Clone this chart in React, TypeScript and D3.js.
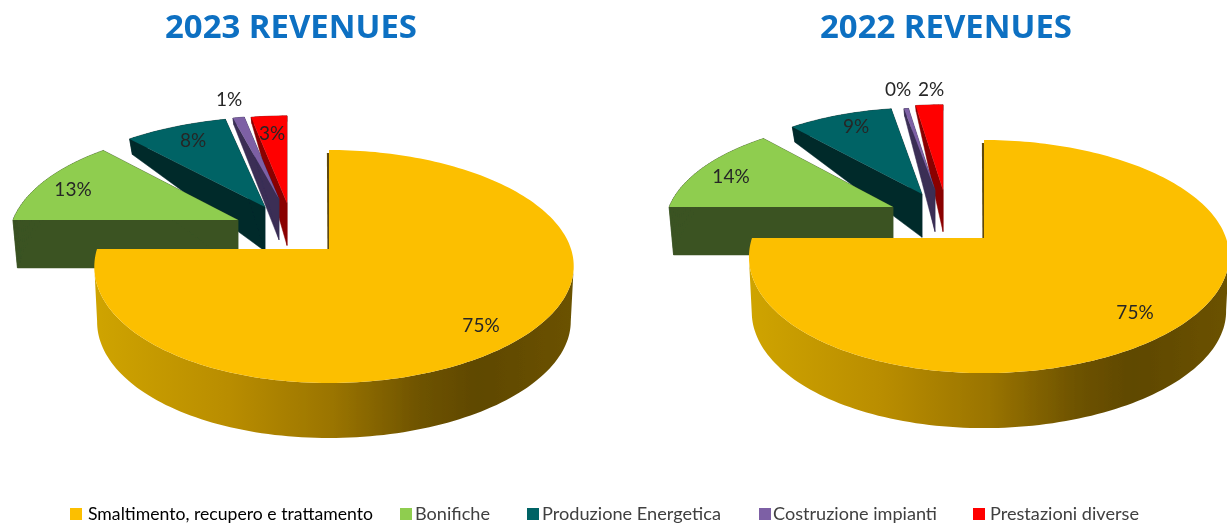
import React from 'react';
import * as d3 from 'd3';

const categories = ['Smaltimento, recupero e trattamento', 'Bonifiche', 'Produzione Energetica', 'Costruzione impianti', 'Prestazioni diverse'];
const values2023 = [75, 13, 8, 1, 3];
const values2022 = [75, 13.5, 8.8, 0.4, 2.3];
const labels2023 = ['75%', '13%', '8%', '1%', '3%'];
const labels2022 = ['75%', '14%', '9%', '0%', '2%'];
const titles = ['2023 REVENUES', '2022 REVENUES'];

const topColors = ['#fcbf00', '#8fcd50', '#016465', '#7d60a5', '#ff0000'];
const sideColors = ['', '#3b5323', '#012a2c', '#3a2e55', '#8a0000'];
const rimStops = [
  [0, '#cfa400'], [0.28, '#b98d00'], [0.5, '#9a7400'], [0.68, '#6e5300'], [0.8, '#5f4800'], [1, '#6b5200'],
] as const;
const legendLayout = [
  { sq: 70, x: 88, w: 285, c: '#000' },
  { sq: 400, x: 415, w: 75, c: '#404040' },
  { sq: 527, x: 542, w: 179, c: '#404040' },
  { sq: 759, x: 773, w: 164, c: '#404040' },
  { sq: 973, x: 990, w: 149, c: '#404040' },
];

type Chart = {
  id: string; title: string; titleX: number; values: number[]; labels: string[];
  ax: number; ay: number; k: number; by: number;
  offs: number[][]; // dx, dy, sx, sy, shear for each slice
  labelPos: number[][];
};
const charts: Chart[] = [
  {
    id: 'a', title: titles[0], titleX: 165, values: values2023, labels: labels2023, ax: 329, ay: 249, k: 0.15, by: 113.9,
    offs: [[0, 0, 1, 1, 0], [-91, -29, 0.97, 0.93, 7], [-64, -42, 1, 0.91, 12], [-50, -50, 0.9, 0.84, 0], [-42, -46, 0.93, 0.88, 0]],
    labelPos: [[481, 324], [73, 188], [193, 139], [229, 98], [272, 132]],
  },
  {
    id: 'b', title: titles[1], titleX: 820, values: values2022, labels: labels2022, ax: 984, ay: 238, k: 0.159, by: 113.6,
    offs: [[0, 0, 1, 1, 0], [-91, -31, 0.965, 0.9, 5], [-62, -44, 0.95, 0.88, 2], [-49, -48, 0.9, 0.84, 0], [-41, -48, 0.93, 0.87, 0]],
    labelPos: [[1135, 311], [731, 175], [856, 125], [898, 88], [931, 88]],
  },
];

const BX = 237, EX = 5, MAXD = [55, 48, 48, 48, 48];
const line = d3.line<number[]>().x(d => d[0]).y(d => d[1]);

function Pie({ c }: { c: Chart }) {
  const arcs = d3.pie<number>().sort(null).value(d => d)(c.values);
  const rimId = 'rim-' + c.id;
  const slices = arcs.map((a, i) => {
    const [dx, dy, sx, sy, shear] = c.offs[i];
    const apex = [c.ax + dx, c.ay + dy];
    const depthAt = (y: number) => Math.min(MAXD[i], 3 + (y - (c.ay - 140)) * 0.42);
    const proj = (t: number) => {
      const u = Math.sin(t), v = -Math.cos(t), w = 1 - c.k * v;
      return [apex[0] + sx * (BX * u + EX * u * u) / w - shear * v, apex[1] + sy * (c.by * v) / w];
    };
    const n = Math.max(4, Math.ceil((a.endAngle - a.startAngle) * 40));
    const rimPts = d3.range(n + 1).map(j => proj(a.startAngle + (a.endAngle - a.startAngle) * j / n));
    const lower = (p: number[]) => [apex[0] + (p[0] - apex[0]) * (i === 0 ? 0.988 : 0.98), p[1] + (i === 0 ? MAXD[0] : depthAt(p[1]))];
    const top = [apex, ...rimPts];
    const edges = i === 0
      ? rimPts.slice(0, -1).map((p, j) => [p, rimPts[j + 1]]).filter(([p, q]) => q[0] < p[0])
      : top.map((p, j) => [p, top[(j + 1) % top.length]]);
    const side = edges.map(([p, q]) => [p, q, lower(q), lower(p)]);
    return { i, apex, top, side, first: rimPts[0] };
  });
  const xs = slices[0].top.map(p => p[0]);
  const quadPath = (q: number[][]) => (line(q) as string) + 'Z';
  return (
    <g>
      <defs>
        <linearGradient id={rimId} gradientUnits="userSpaceOnUse" x1={d3.min(xs)} x2={d3.max(xs)} y1={0} y2={0}>
          {rimStops.map(([o, col]) => <stop key={o} offset={o} stopColor={col} />)}
        </linearGradient>
      </defs>
      {slices.slice().reverse().map(s => (
        <g key={s.i}>
          {s.i === 0
            ? <path d={s.side.map(quadPath).join('')} fill={`url(#${rimId})`} />
            : s.side.map((q, j) => (
              <path key={j} d={quadPath(q)} fill={sideColors[s.i]} stroke={sideColors[s.i]} strokeWidth={0.5} />
            ))}
          {s.i === 0 && (
            <path d={line([[s.first[0] - 1, s.first[1] + 3], [s.apex[0] - 0.5, s.apex[1]]]) as string} stroke="#5f4a10" strokeWidth={2.2} fill="none" />
          )}
          <path d={quadPath(s.top)} fill={topColors[s.i]} />
        </g>
      ))}
      {c.labels.map((l, i) => (
        <text key={i} x={c.labelPos[i][0]} y={c.labelPos[i][1]} textAnchor="middle" dominantBaseline="central"
          fontFamily="Lato, 'Noto Sans', sans-serif" fontSize={19} fill="#262626">{l}</text>
      ))}
      <text x={c.titleX} y={38} fontFamily="'Open Sans', sans-serif" fontWeight={700} fontSize={32} fill="#0b6fc2"
        textLength={252} lengthAdjust="spacingAndGlyphs">{c.title}</text>
    </g>
  );
}

export default function App() {
  return (
    <svg width={1227} height={526} viewBox="0 0 1227 526" style={{ position: 'fixed', left: 0, top: 0, background: '#fff' }}>
      <defs>
        <filter id="soft" x="0" y="0" width="100%" height="100%">
          <feGaussianBlur stdDeviation="0.7" />
        </filter>
      </defs>
      <g filter="url(#soft)">
        {charts.map(c => <Pie key={c.id} c={c} />)}
        {categories.map((name, i) => {
          const l = legendLayout[i];
          return (
            <g key={name}>
              <rect x={l.sq} y={508} width={12} height={12} fill={topColors[i]} />
              <text x={l.x} y={514} dominantBaseline="central" fontFamily="Lato, 'Noto Sans', sans-serif" fontSize={16.5} fill={l.c}
                textLength={l.w} lengthAdjust="spacingAndGlyphs">{name}</text>
            </g>
          );
        })}
      </g>
    </svg>
  );
}
